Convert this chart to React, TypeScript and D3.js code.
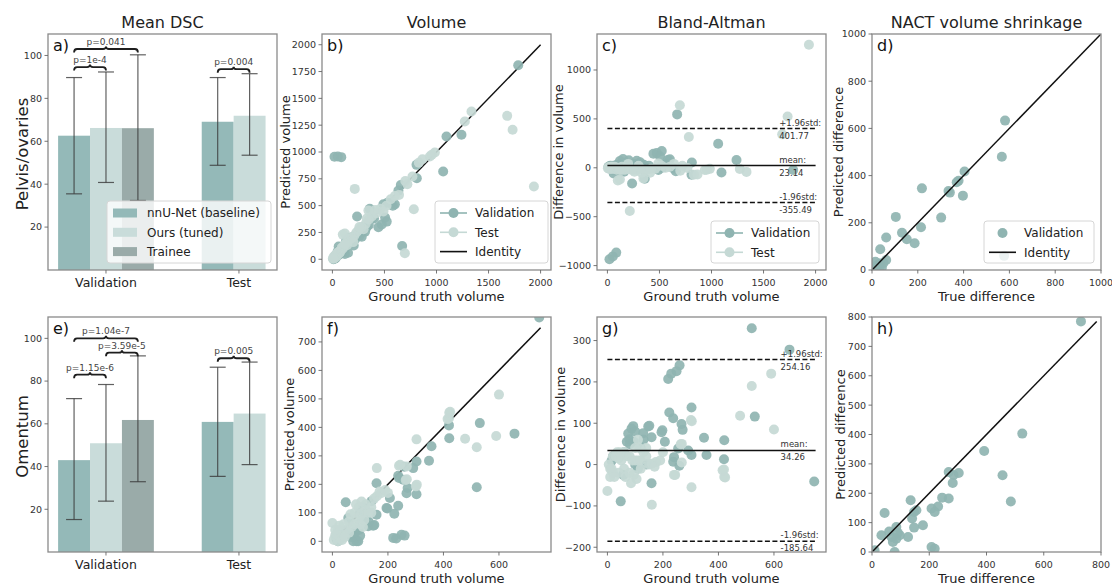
import React from "react";
import * as d3 from "d3";

const FONT = "'DejaVu Sans', Verdana, sans-serif";
const VAL_COLOR = "#8fb4b1";
const TEST_COLOR = "#c5d9d5";
const BAR_COLORS = ["#94b9b8", "#c9dcda", "#9aaba9"];

// layout
const COLS = [48, 322, 597, 872];
const PW = 229;
const ROWS = [34, 317];
const PH = [236, 235];

const columnTitles = ["Mean DSC", "Volume", "Bland-Altman", "NACT volume shrinkage"];
const rowLabels = ["Pelvis/ovaries", "Omentum"];
const panelLetters = [["a)", "b)", "c)", "d)"], ["e)", "f)", "g)", "h)"]];

// bar data
const groups = ["Validation", "Test"];
const methods = ["nnU-Net (baseline)", "Ours (tuned)", "Trainee"];
const valOffsets = [-0.24, 0, 0.24];
const testOffsets = [-0.16, 0.08];

const pelvisValMean = [62.6, 66.2, 66.1];
const pelvisValLow = [35.5, 40.8, 32.4];
const pelvisValHigh = [89.7, 92.3, 100.3];
const pelvisTestMean = [69.1, 71.9];
const pelvisTestLow = [48.8, 53.5];
const pelvisTestHigh = [89.7, 91.5];
const pelvisBrackets = [
  { g: 0, i: 0, j: 1, y: 94.6, label: "p=1e-4" },
  { g: 0, i: 0, j: 2, y: 103, label: "p=0.041" },
  { g: 1, i: 0, j: 1, y: 93.6, label: "p=0.004" },
];

const omentumValMean = [43.0, 50.9, 61.8];
const omentumValLow = [15.2, 23.8, 32.9];
const omentumValHigh = [71.8, 78.4, 91.8];
const omentumTestMean = [60.9, 64.8];
const omentumTestLow = [35.4, 40.9];
const omentumTestHigh = [86.5, 88.9];
const omentumBrackets = [
  { g: 0, i: 0, j: 1, y: 83, label: "p=1.15e-6" },
  { g: 0, i: 1, j: 2, y: 93.3, label: "p=3.59e-5" },
  { g: 0, i: 0, j: 2, y: 100, label: "p=1.04e-7" },
  { g: 1, i: 0, j: 1, y: 90.7, label: "p=0.005" },
];

// volume data: [ground truth, predicted]
const pelvisVolVal: [number, number][] = [
  [20, 955], [52, 958], [85, 952], [1785, 1808], [1096, 1145], [1240, 1160], [1064, 818], [808, 880],
  [811, 756], [657, 693], [634, 640], [490, 512], [530, 528], [565, 525], [600, 512], [580, 500],
  [359, 470], [237, 398], [522, 351], [442, 298], [670, 124], [205, 128], [60, 118], [474, 324],
  [506, 390], [378, 382], [314, 258], [282, 211], [400, 380], [300, 290], [350, 320], [280, 260],
  [250, 240], [180, 170], [150, 150], [120, 100], [100, 120], [90, 60], [60, 40], [40, 30], [30, 10],
  [20, 5], [10, 0], [50, 70], [160, 200], [220, 190], [330, 300], [150, 60], [120, 50], [200, 210],
  [260, 220], [75, 90], [130, 170], [110, 80],
];
const pelvisVolTest: [number, number][] = [
  [1936, 678], [1679, 1337], [1731, 1207], [1336, 1378], [1272, 1285], [984, 995], [936, 958], [865, 933],
  [830, 900], [955, 975], [769, 771], [782, 467], [696, 56], [215, 656], [720, 700], [600, 590],
  [560, 560], [520, 500], [460, 470], [420, 430], [380, 400], [350, 370], [320, 330], [300, 280],
  [280, 300], [250, 270], [230, 250], [210, 220], [190, 200], [170, 190], [150, 170], [140, 130],
  [130, 150], [110, 120], [100, 100], [90, 110], [80, 80], [70, 60], [60, 70], [50, 40], [45, 55],
  [40, 30], [35, 45], [30, 20], [25, 35], [20, 15], [15, 25], [10, 5], [5, 10], [120, 240], [200, 160],
  [260, 300], [330, 380], [120, 140], [100, 230], [410, 460], [346, 455], [490, 445], [640, 600], [700, 730],
];
const omentumVolVal: [number, number][] = [
  [520, 190], [656, 378], [531, 415], [745, 786], [420, 407], [421, 362], [357, 334], [348, 283],
  [303, 280], [291, 257], [303, 165], [271, 187], [267, 169], [255, 216], [237, 230], [159, 204],
  [207, 152], [195, 117], [237, 125], [223, 97], [159, 93], [48, 137], [147, 55], [129, 53], [249, 23],
  [219, 12], [230, 10], [260, 20], [79, 18], [87, 0], [57, 82], [15, 6], [93, 0], [151, 57], [198, 115],
  [75, 0], [240, 222], [259, 262], [141, 141], [30, 10], [60, 30], [100, 20], [120, 80], [110, 120],
  [100, 100], [130, 70], [95, 40], [20, 0], [70, 15], [81, 32],
];
const omentumVolTest: [number, number][] = [
  [600, 515], [590, 370], [520, 330], [478, 360], [424, 455], [420, 432], [415, 429], [421, 451],
  [303, 358], [268, 263], [244, 269], [304, 199], [268, 218], [160, 257], [175, 169], [160, 158],
  [264, 215], [301, 193], [240, 265], [0, 64], [10, 20], [20, 0], [30, 10], [40, 25], [50, 40], [60, 30],
  [70, 50], [80, 60], [90, 80], [100, 90], [110, 100], [120, 110], [100, 60], [80, 100], [60, 70],
  [40, 60], [20, 40], [5, 5], [15, 25], [35, 5], [45, 15], [120, 130], [130, 100], [140, 120], [95, 120],
  [85, 130], [110, 50], [150, 150], [170, 175], [190, 180], [200, 170], [10, 40], [25, 55], [65, 95],
  [105, 140], [115, 75], [140, 100],
];

// Bland-Altman limits [+1.96std, mean, -1.96std]
const pelvisBALimits = [401.77, 23.14, -355.49];
const omentumBALimits = [254.16, 34.26, -185.64];

// shrinkage: [true difference, predicted difference]
const pelvisShrinkVal: [number, number][] = [
  [581, 633], [567, 480], [404, 417], [378, 378], [370, 372], [334, 335], [340, 328], [397, 315],
  [218, 346], [302, 222], [214, 181], [186, 113], [131, 158], [152, 130], [104, 225], [62, 138],
  [36, 88], [62, 42], [22, 20], [35, 28], [43, 10], [30, 5], [0, 0], [50, 30], [15, 35], [577, 60],
];
const omentumShrinkVal: [number, number][] = [
  [730, 785], [525, 403], [392, 344], [456, 261], [485, 172], [268, 272], [285, 262], [282, 235],
  [303, 269], [245, 185], [268, 182], [231, 155], [208, 148], [219, 136], [178, 91], [147, 136],
  [140, 114], [147, 83], [135, 176], [155, 142], [126, 51], [44, 133], [33, 57], [85, 85], [68, 51],
  [85, 45], [97, 57], [73, 34], [208, 17], [219, 11], [9, 6], [79, 0], [60, 70], [90, 65],
];

const ticks = {
  volX: [0, 500, 1000, 1500, 2000],
  volY: [0, 250, 500, 750, 1000, 1250, 1500, 1750, 2000],
  baY: [-1000, -500, 0, 500, 1000],
  shrink1: [0, 200, 400, 600, 800, 1000],
  omX: [0, 200, 400, 600],
  omY: [0, 100, 200, 300, 400, 500, 600, 700],
  omBAY: [-200, -100, 0, 100, 200, 300],
  shrink2X: [0, 200, 400, 600, 800],
  shrink2Y: [0, 100, 200, 300, 400, 500, 600, 700, 800],
};

type LegendItem = { label: string; kind: "swatch" | "linemarker" | "marker" | "line"; color: string };

function Legend({ x, y, w, h, items }: { x: number; y: number; w: number; h: number; items: LegendItem[] }) {
  return (
    <g>
      <rect x={x} y={y} width={w} height={h} rx={3} fill="#fff" fillOpacity={0.8} stroke="#d6d6d6" strokeWidth={1} />
      {items.map((it, k) => {
        const cy = y + 12 + k * 19.3;
        return (
          <g key={it.label}>
            {it.kind === "swatch" && <rect x={x + 6} y={cy - 4.5} width={24} height={9} fill={it.color} />}
            {(it.kind === "linemarker" || it.kind === "line") && (
              <line x1={x + 5} x2={x + 32} y1={cy} y2={cy} stroke={it.color} strokeWidth={1.6} />
            )}
            {(it.kind === "linemarker" || it.kind === "marker") && <circle cx={x + 18.5} cy={cy} r={5} fill={it.color} />}
            <text x={x + 40} y={cy + 4.3} fontSize={12} fill="#222">
              {it.label}
            </text>
          </g>
        );
      })}
    </g>
  );
}

function Frame({ x0, y0, w, h }: { x0: number; y0: number; w: number; h: number }) {
  return <rect x={x0} y={y0} width={w} height={h} fill="none" stroke="#8a8a8a" strokeWidth={1.3} />;
}

function YAxis({ ys, x0, tickVals }: { ys: d3.ScaleLinear<number, number>; x0: number; tickVals: number[] }) {
  return (
    <g>
      {tickVals.map((t) => (
        <g key={t}>
          <line x1={x0 - 3.5} x2={x0} y1={ys(t)} y2={ys(t)} stroke="#666" strokeWidth={0.9} />
          <text x={x0 - 6} y={ys(t) + 3.4} textAnchor="end" fontSize={9.5} fill="#333">
            {t < 0 ? "\u2212" + Math.abs(t) : t}
          </text>
        </g>
      ))}
    </g>
  );
}

function XAxis({ xs, yb, tickVals }: { xs: d3.ScaleLinear<number, number>; yb: number; tickVals: number[] }) {
  return (
    <g>
      {tickVals.map((t) => (
        <g key={t}>
          <line x1={xs(t)} x2={xs(t)} y1={yb} y2={yb + 3.5} stroke="#666" strokeWidth={0.9} />
          <text x={xs(t)} y={yb + 15.5} textAnchor="middle" fontSize={9.5} fill="#333">
            {t}
          </text>
        </g>
      ))}
    </g>
  );
}

function BarPanel({
  row, valMean, valLow, valHigh, testMean, testLow, testHigh, brackets, legend,
}: any) {
  const x0 = COLS[0], y0 = ROWS[row], w = PW, h = PH[row];
  const xs = d3.scaleLinear().domain([-0.436, 1.286]).range([x0, x0 + w]);
  const ys = d3.scaleLinear().domain([0, 110]).range([y0 + h, y0]);
  const bw = 0.24;
  const center = (g: number, i: number) => g + (g === 0 ? valOffsets[i] : testOffsets[i]);
  const bars: any[] = [];
  valMean.forEach((m: number, i: number) => bars.push({ g: 0, i, m, lo: valLow[i], hi: valHigh[i] }));
  testMean.forEach((m: number, i: number) => bars.push({ g: 1, i, m, lo: testLow[i], hi: testHigh[i] }));
  const bracketPath = (xa: number, xb: number, y: number) => {
    const mid = (xa + xb) / 2;
    return `M${xa},${y + 3.5} Q${xa},${y} ${xa + 3},${y} L${mid - 3},${y} Q${mid},${y} ${mid},${y - 2.5} Q${mid},${y} ${mid + 3},${y} L${xb - 3},${y} Q${xb},${y} ${xb},${y + 3.5}`;
  };
  return (
    <g>
      {bars.map((b) => {
        const cx = center(b.g, b.i);
        return (
          <rect key={`${b.g}-${b.i}`} x={xs(cx - bw / 2)} y={ys(b.m)} width={xs(cx + bw / 2) - xs(cx - bw / 2)} height={ys(0) - ys(b.m)} fill={BAR_COLORS[b.i]} />
        );
      })}
      {bars.map((b) => {
        const cx = xs(center(b.g, b.i));
        return (
          <g key={`e${b.g}-${b.i}`} stroke="#3a3a3a" strokeWidth={1.2} strokeOpacity={0.8}>
            <line x1={cx} x2={cx} y1={ys(b.lo)} y2={ys(b.hi)} />
            <line x1={cx - 8} x2={cx + 8} y1={ys(b.lo)} y2={ys(b.lo)} />
            <line x1={cx - 8} x2={cx + 8} y1={ys(b.hi)} y2={ys(b.hi)} />
          </g>
        );
      })}
      {brackets.map((br: any) => {
        const xa = xs(center(br.g, br.i));
        const xb = xs(center(br.g, br.j));
        const y = ys(br.y);
        return (
          <g key={br.label}>
            <path d={bracketPath(xa, xb, y)} fill="none" stroke="#1e1e1e" strokeWidth={1.8} />
            <text x={(xa + xb) / 2} y={y - 4} textAnchor="middle" fontSize={9} fill="#444">
              {br.label}
            </text>
          </g>
        );
      })}
      <Frame x0={x0} y0={y0} w={w} h={h} />
      <YAxis ys={ys} x0={x0} tickVals={[20, 40, 60, 80, 100]} />
      {groups.map((gname, g) => (
        <g key={gname}>
          <line x1={xs(g)} x2={xs(g)} y1={y0 + h} y2={y0 + h + 3.5} stroke="#666" strokeWidth={0.9} />
          <text x={xs(g)} y={y0 + h + 17} textAnchor="middle" fontSize={12.5} fill="#222">
            {gname}
          </text>
        </g>
      ))}
      <text x={x0 + 5} y={y0 + 17} fontSize={16} fill="#111">
        {panelLetters[row][0]}
      </text>
      {legend && (
        <Legend
          x={x0 + w - 6 - 164}
          y={y0 + h - 7 - 62}
          w={164}
          h={62}
          items={methods.map((m, i) => ({ label: m, kind: "swatch", color: BAR_COLORS[i] }))}
        />
      )}
    </g>
  );
}

function ScatterPanel({
  row, col, xDomain, yDomain, xTicks, yTicks, series, identity, identityBelow, limits, limitLabelX, limitRange,
  legend, xLabel, yLabel, yLabelX,
}: any) {
  const x0 = COLS[col], y0 = ROWS[row], w = PW, h = PH[row];
  const xs = d3.scaleLinear().domain(xDomain).range([x0, x0 + w]);
  const ys = d3.scaleLinear().domain(yDomain).range([y0 + h, y0]);
  const clipId = `clip-${row}-${col}`;
  const limitNames = ["+1.96std:", "mean:", "-1.96std:"];
  const idLine = identity && (
    <line x1={xs(identity[0])} y1={ys(identity[0])} x2={xs(identity[1])} y2={ys(identity[1])} stroke="#111" strokeWidth={1.5} />
  );
  return (
    <g>
      <defs>
        <clipPath id={clipId}>
          <rect x={x0} y={y0} width={w} height={h} />
        </clipPath>
      </defs>
      <g clipPath={`url(#${clipId})`}>
        {identityBelow && idLine}
        {series.map((s: any) =>
          s.pts.map((p: [number, number], k: number) => (
            <circle key={s.name + k} cx={xs(p[0])} cy={ys(p[1])} r={5} fill={s.color} fillOpacity={0.92} />
          ))
        )}
        {!identityBelow && idLine}
        {limits &&
          limits.map((v: number, k: number) => (
            <line key={k} x1={xs(limitRange[0])} x2={xs(limitRange[1])} y1={ys(v)} y2={ys(v)} stroke="#111" strokeWidth={1.5} strokeDasharray={k === 1 ? undefined : "5,2.5"} />
          ))}
      </g>
      {limits &&
        limits.map((v: number, k: number) => (
          <g key={"t" + k} fontSize={8.5} fill="#333">
            <text x={xs(limitLabelX)} y={ys(v) - 3}>{limitNames[k]}</text>
            <text x={xs(limitLabelX)} y={ys(v) + 10}>{v.toFixed(2)}</text>
          </g>
        ))}
      <Frame x0={x0} y0={y0} w={w} h={h} />
      <YAxis ys={ys} x0={x0} tickVals={yTicks} />
      <XAxis xs={xs} yb={y0 + h} tickVals={xTicks} />
      <text x={x0 + (w) / 2} y={y0 + h + 31} textAnchor="middle" fontSize={13} fill="#222">
        {xLabel}
      </text>
      <text transform={`translate(${yLabelX},${y0 + h / 2}) rotate(-90)`} textAnchor="middle" dy="0.35em" fontSize={13} fill="#222">
        {yLabel}
      </text>
      <text x={x0 + 5} y={y0 + 17} fontSize={16} fill="#111">
        {panelLetters[row][col]}
      </text>
      {legend && <Legend {...legend} x={x0 + w - legend.gap - legend.w} y={y0 + h - 7 - legend.h} />}
    </g>
  );
}

const baDiff = (pts: [number, number][]): [number, number][] => pts.map((p) => [p[0], p[0] - p[1]]);

export default function App() {
  return (
    <svg width={1112} height={586} fontFamily={FONT} style={{ position: "absolute", left: 0, top: 0, background: "#fff" }}>
      <rect x={0} y={0} width={1112} height={586} fill="#fff" />
      {columnTitles.map((t, i) => (
        <text key={t} x={COLS[i] + PW / 2} y={28} textAnchor="middle" fontSize={16} fill="#222">
          {t}
        </text>
      ))}
      {rowLabels.map((t, r) => (
        <text key={t} transform={`translate(${22},${ROWS[r] + PH[r] / 2 + 2}) rotate(-90)`} textAnchor="middle" dy="0.35em" fontSize={16.5} fill="#222">
          {t}
        </text>
      ))}

      <BarPanel row={0} valMean={pelvisValMean} valLow={pelvisValLow} valHigh={pelvisValHigh} testMean={pelvisTestMean} testLow={pelvisTestLow} testHigh={pelvisTestHigh} brackets={pelvisBrackets} legend />
      <BarPanel row={1} valMean={omentumValMean} valLow={omentumValLow} valHigh={omentumValHigh} testMean={omentumTestMean} testLow={omentumTestLow} testHigh={omentumTestHigh} brackets={omentumBrackets} />

      <ScatterPanel
        row={0} col={1} xDomain={[-100, 2100]} yDomain={[-100, 2100]} xTicks={ticks.volX} yTicks={ticks.volY}
        series={[{ name: "v", pts: pelvisVolVal, color: VAL_COLOR }, { name: "t", pts: pelvisVolTest, color: TEST_COLOR }]}
        identity={[0, 2000]} identityBelow xLabel="Ground truth volume" yLabel="Predicted volume" yLabelX={285}
        legend={{ gap: 3, w: 113, h: 62, items: [
          { label: "Validation", kind: "linemarker", color: VAL_COLOR },
          { label: "Test", kind: "linemarker", color: TEST_COLOR },
          { label: "Identity", kind: "line", color: "#111" },
        ] }}
      />
      <ScatterPanel
        row={0} col={2} xDomain={[-100, 2100]} yDomain={[-1045, 1368]} xTicks={ticks.volX} yTicks={ticks.baY}
        series={[{ name: "v", pts: baDiff(pelvisVolVal), color: VAL_COLOR }, { name: "t", pts: baDiff(pelvisVolTest), color: TEST_COLOR }]}
        limits={pelvisBALimits} limitRange={[0, 2000]} limitLabelX={1650}
        xLabel="Ground truth volume" yLabel="Difference in volume" yLabelX={558}
        legend={{ gap: 7, w: 108, h: 42, items: [
          { label: "Validation", kind: "linemarker", color: VAL_COLOR },
          { label: "Test", kind: "linemarker", color: TEST_COLOR },
        ] }}
      />
      <ScatterPanel
        row={0} col={3} xDomain={[0, 1000]} yDomain={[0, 1000]} xTicks={ticks.shrink1} yTicks={ticks.shrink1}
        series={[{ name: "v", pts: pelvisShrinkVal, color: VAL_COLOR }]}
        identity={[0, 1000]} xLabel="True difference" yLabel="Predicted difference" yLabelX={838}
        legend={{ gap: 7, w: 110, h: 42, items: [
          { label: "Validation", kind: "marker", color: VAL_COLOR },
          { label: "Identity", kind: "line", color: "#111" },
        ] }}
      />

      <ScatterPanel
        row={1} col={1} xDomain={[-37.5, 787.5]} yDomain={[-37.5, 787.5]} xTicks={ticks.omX} yTicks={ticks.omY}
        series={[{ name: "v", pts: omentumVolVal, color: VAL_COLOR }, { name: "t", pts: omentumVolTest, color: TEST_COLOR }]}
        identity={[0, 750]} identityBelow xLabel="Ground truth volume" yLabel="Predicted volume" yLabelX={289}
      />
      <ScatterPanel
        row={1} col={2} xDomain={[-37.5, 787.5]} yDomain={[-211.5, 357]} xTicks={ticks.omX} yTicks={ticks.omBAY}
        series={[{ name: "v", pts: baDiff(omentumVolVal), color: VAL_COLOR }, { name: "t", pts: baDiff(omentumVolTest), color: TEST_COLOR }]}
        limits={omentumBALimits} limitRange={[0, 750]} limitLabelX={624}
        xLabel="Ground truth volume" yLabel="Difference in volume" yLabelX={560}
      />
      <ScatterPanel
        row={1} col={3} xDomain={[0, 800]} yDomain={[0, 800]} xTicks={ticks.shrink2X} yTicks={ticks.shrink2Y}
        series={[{ name: "v", pts: omentumShrinkVal, color: VAL_COLOR }]}
        identity={[0, 785]} xLabel="True difference" yLabel="Predicted difference" yLabelX={840}
      />
    </svg>
  );
}
